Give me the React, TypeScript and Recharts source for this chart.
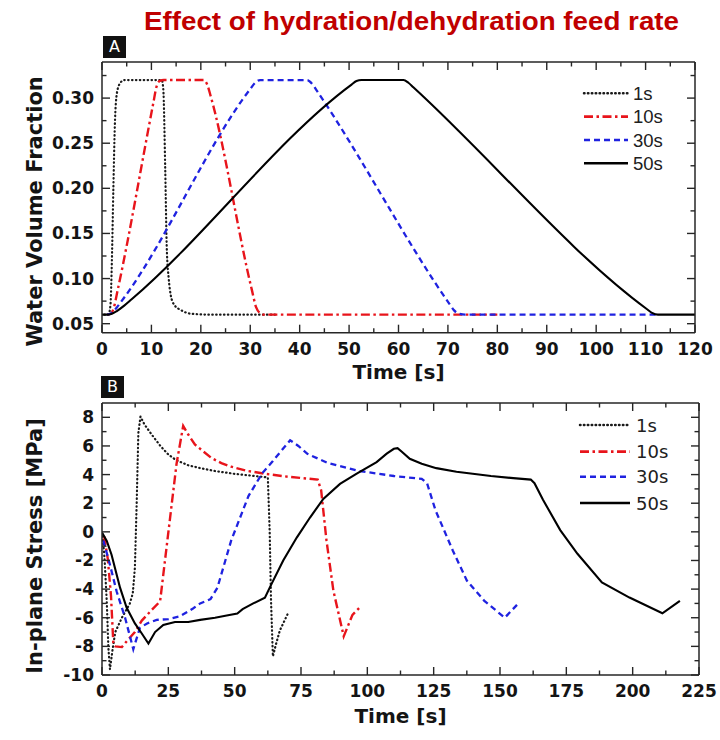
import React from 'react';
import { LineChart, Line, XAxis, YAxis, Legend, Label } from 'recharts';

type Pt = [number, number];

// ---------------- Panel A: water volume fraction vs time [s] ----------------
const wvf_1s: Pt[] = [
  [0.5, 0.06], [1.3, 0.06], [1.7, 0.07], [2.0, 0.12], [2.3, 0.2], [2.6, 0.27], [3.0, 0.305],
  [3.6, 0.316], [4.5, 0.32], [12.1, 0.32], [12.4, 0.31], [12.8, 0.22], [13.1, 0.135],
  [13.5, 0.1], [13.9, 0.082], [14.6, 0.071], [16, 0.065], [18, 0.061], [22, 0.06], [35, 0.06],
];
const wvf_10s: Pt[] = [
  [1, 0.06], [1.8, 0.061], [2.4, 0.068], [3.2, 0.088], [10.4, 0.295], [11.0, 0.312], [11.7, 0.319],
  [12.5, 0.32], [20.6, 0.32], [21.3, 0.315], [22.0, 0.302], [30.3, 0.088], [31.2, 0.068],
  [31.9, 0.062], [32.8, 0.06], [80, 0.06],
];
const wvf_30s: Pt[] = [
  [1, 0.06], [2, 0.062], [3, 0.068], [4.5, 0.079], [30, 0.31], [31, 0.317], [32, 0.32],
  [41.5, 0.32], [42.5, 0.316], [43.5, 0.308], [70.3, 0.072], [71.2, 0.065], [72.2, 0.061],
  [73.5, 0.06], [112, 0.06],
];
const wvf_50s: Pt[] = [
  [0, 0.06], [1, 0.06], [2, 0.061], [3, 0.064], [4.5, 0.07], [6, 0.077], [50.5, 0.315],
  [51.5, 0.319], [52.5, 0.32], [61, 0.32], [62, 0.317], [63, 0.312], [110.3, 0.066],
  [111.3, 0.062], [112.5, 0.06], [120, 0.06],
];

// ---------------- Panel B: in-plane stress [MPa] vs time [s] ----------------
const stress_1s: Pt[] = [
  [0.3, -0.3], [1.0, -2.0], [1.8, -4.9], [2.4, -8.1], [3.0, -9.6], [4.0, -8.2], [5.0, -7.0],
  [7.5, -6.0], [10.5, -5.0], [11.6, -4.3], [12.4, -2.5], [13.1, 2.2], [13.7, 6.9], [14.5, 8.05],
  [16.0, 7.5], [18.7, 6.8], [22, 6.0], [25, 5.4], [28, 5.0], [32.5, 4.65], [37, 4.45],
  [42.5, 4.25], [50, 4.05], [56, 3.93], [62.5, 3.8], [63.2, 0], [63.7, -4.8], [64.4, -8.7],
  [65.5, -7.9], [67, -6.9], [70.2, -5.65],
];
const stress_10s: Pt[] = [
  [0.8, -0.3], [2.2, -1.9], [3.4, -4.5], [4.3, -7.9], [5.0, -8.0], [7.5, -8.05], [9.5, -7.6],
  [12.4, -7.0], [15, -6.2], [17.5, -5.7], [21.9, -4.85], [28.1, 4.76], [30.6, 7.4], [32.5, 6.8],
  [35, 6.1], [38.3, 5.6], [41.3, 5.15], [45, 4.8], [48.7, 4.55], [55, 4.25], [61.7, 4.05],
  [70, 3.85], [81.3, 3.65], [82.6, 2.9], [84.6, -0.6], [87.2, -4.1], [91.1, -7.3], [94.4, -5.8],
  [97.6, -5.2],
];
const stress_30s: Pt[] = [
  [0.5, -0.6], [3.0, -2.3], [5.5, -4.15], [8.7, -6.0], [11.8, -8.2], [14.3, -6.7], [17, -6.4],
  [20.6, -6.15], [25, -6.1], [29.4, -5.9], [34.3, -5.35], [37, -5.0], [40.9, -4.7], [43.5, -3.9],
  [48.7, -0.6], [55.2, 2.5], [60.4, 4.1], [64.4, 4.95], [70.9, 6.4], [74, 6.0], [77.4, 5.45],
  [85.2, 4.8], [97, 4.25], [110, 3.9], [120.5, 3.7], [122.5, 3.4], [125.7, 1.5], [132.2, -1.3],
  [137.5, -3.4], [144, -4.8], [151.8, -6.0], [156.4, -5.1],
];
const stress_50s: Pt[] = [
  [0, -0.05], [1.8, -0.63], [3.6, -1.6], [6.8, -3.9], [9.3, -5.3], [12.4, -6.4], [15, -7.1],
  [17.5, -7.8], [20, -7.0], [23.1, -6.5], [27.5, -6.3], [32.5, -6.3], [37, -6.15], [42.6, -6.0],
  [47, -5.85], [51, -5.7], [53, -5.4], [57, -5.0], [61.4, -4.6], [64, -3.6], [68.3, -2.0],
  [73.4, -0.4], [78.4, 1.0], [83.4, 2.3], [89.7, 3.35], [96, 4.06], [103.5, 4.87], [107.3, 5.46],
  [110, 5.8], [111.4, 5.85], [113, 5.6], [116, 5.1], [120.5, 4.75], [126, 4.45], [133.6, 4.2],
  [146.6, 3.9], [155, 3.75], [161.6, 3.65], [163, 3.4], [166.2, 2.24], [172.7, 0.12],
  [179.2, -1.53], [188.4, -3.53], [198.8, -4.59], [211.2, -5.69], [217.8, -4.82],
];

// ---------------- series styling / labels ----------------
const seriesLabels = ['1s', '10s', '30s', '50s'];
const seriesColors = ['#1a1a1a', '#e8141b', '#1f22e0', '#000000'];
const seriesDash = ['0.5 3.4', '9 3.5 2.5 3.5', '6 4', ''];
const seriesWidth = [2.2, 2.4, 2.3, 2.1];

// ---------------- ticks ----------------
const xTicksA = [0, 10, 20, 30, 40, 50, 60, 70, 80, 90, 100, 110, 120];
const xMinorA = [5, 15, 25, 35, 45, 55, 65, 75, 85, 95, 105, 115];
const yTicksA = [0.05, 0.1, 0.15, 0.2, 0.25, 0.3];
const yMinorA = [0.075, 0.125, 0.175, 0.225, 0.275, 0.325];
const xTicksB = [0, 25, 50, 75, 100, 125, 150, 175, 200, 225];
const xMinorB = [12.5, 37.5, 62.5, 87.5, 112.5, 137.5, 162.5, 187.5, 212.5];
const yTicksB = [-10, -8, -6, -4, -2, 0, 2, 4, 6, 8];
const yMinorB = [-9, -7, -5, -3, -1, 1, 3, 5, 7];

const FRAME = '#262626';
const TICK_FONT: React.CSSProperties = {
  fontFamily: '"DejaVu Sans", Verdana, sans-serif',
  fontWeight: 'bold',
  fontSize: 17,
  fill: '#141414',
};
const TITLE_FONT: React.CSSProperties = {
  fontFamily: '"DejaVu Sans", Verdana, sans-serif',
  fontWeight: 'bold',
  fontSize: 21,
  fill: '#141414',
};

const toRows = (pts: Pt[]) => pts.map(([t, v]) => ({ t, v }));
const sorted = (a: number[], b: number[]) => [...a, ...b].sort((p, q) => p - q);

type Side = 'bottom' | 'top' | 'left' | 'right';
function makeTick(side: Side, majors: number[], fmt: ((v: number) => string) | null) {
  return function Tick(props: any) {
    const { x, y, payload } = props;
    const v = payload.value as number;
    const major = majors.some((m) => Math.abs(m - v) < 1e-6);
    const L = major ? 8 : 4.5;
    let line: React.ReactNode = null;
    let label: React.ReactNode = null;
    if (side === 'bottom') {
      line = <line x1={x} x2={x} y1={y} y2={y - L} stroke={FRAME} strokeWidth={1.4} />;
      if (major && fmt) label = <text x={x} y={y + 22} textAnchor="middle" style={TICK_FONT}>{fmt(v)}</text>;
    } else if (side === 'top') {
      line = <line x1={x} x2={x} y1={y} y2={y + L} stroke={FRAME} strokeWidth={1.4} />;
    } else if (side === 'left') {
      line = <line x1={x} x2={x + L} y1={y} y2={y} stroke={FRAME} strokeWidth={1.4} />;
      if (major && fmt) label = <text x={x - 8} y={y + 6} textAnchor="end" style={TICK_FONT}>{fmt(v)}</text>;
    } else {
      line = <line x1={x} x2={x - L} y1={y} y2={y} stroke={FRAME} strokeWidth={1.4} />;
    }
    return <g>{line}{label}</g>;
  };
}

const xTitle = (dy: number) => (props: any) => {
  const vb = props.viewBox || { x: 102, y: 330, width: 595, height: 0 };
  return (
    <text x={vb.x + vb.width / 2} y={vb.y + dy} textAnchor="middle" style={{ ...TITLE_FONT, fontSize: 20 }}>
      Time [s]
    </text>
  );
};
const yTitle = (text: string, px: number, dyc: number) => (props: any) => {
  const vb = props.viewBox || { x: 101, y: 62, width: 1, height: 270 };
  const cx = px;
  const cy = vb.y + vb.height / 2 + dyc;
  return (
    <text x={cx} y={cy} transform={`rotate(-90 ${cx} ${cy})`} textAnchor="middle" dominantBaseline="central" style={TITLE_FONT}>
      {text}
    </text>
  );
};

function LegendBox({ rows, lineX, textX, font, fontSize }: { rows: number[]; lineX: [number, number]; textX: number; font: string; fontSize: number }) {
  return (
    <svg width={135} height={110} style={{ display: 'block' }}>
      {seriesLabels.map((name, i) => (
        <g key={name}>
          <line
            x1={lineX[0]}
            x2={lineX[1]}
            y1={rows[i]}
            y2={rows[i]}
            stroke={seriesColors[i]}
            strokeWidth={seriesWidth[i] + 0.3}
            strokeDasharray={seriesDash[i] || undefined}
            strokeLinecap={i === 0 ? 'round' : 'butt'}
          />
          <text x={textX} y={rows[i]} dominantBaseline="central" style={{ fontFamily: font, fontSize, fill: '#202020' }}>
            {name}
          </text>
        </g>
      ))}
    </svg>
  );
}

function renderLines(sets: Pt[][], curve: 'monotone' | 'linear') {
  return sets.map((pts, i) => (
    <Line
      key={seriesLabels[i]}
      name={seriesLabels[i]}
      xAxisId="b"
      yAxisId="l"
      data={toRows(pts)}
      dataKey="v"
      type={curve}
      stroke={seriesColors[i]}
      strokeWidth={seriesWidth[i]}
      strokeDasharray={seriesDash[i] || undefined}
      strokeLinecap={i === 0 ? 'round' : 'butt'}
      dot={false}
      activeDot={false}
      isAnimationActive={false}
    />
  ));
}

const axisLine = { stroke: FRAME, strokeWidth: 1.5 };

function PanelA() {
  const xt = sorted(xTicksA, xMinorA);
  const yt = sorted(yTicksA, yMinorA);
  return (
    <LineChart width={720} height={390} margin={{ top: 61, right: 24, bottom: 56.3, left: 101 }}>
      <XAxis xAxisId="b" dataKey="t" type="number" domain={[0, 120]} allowDataOverflow ticks={xt} interval={0}
        height={1} tickSize={0} tickMargin={0} tickLine={false} axisLine={axisLine}
        tick={makeTick('bottom', xTicksA, (v) => String(v))}>
        <Label content={xTitle(46)} />
      </XAxis>
      <XAxis xAxisId="t" orientation="top" dataKey="t" type="number" domain={[0, 120]} allowDataOverflow ticks={xt} interval={0}
        height={1} tickSize={0} tickMargin={0} tickLine={false} axisLine={axisLine}
        tick={makeTick('top', xTicksA, null)} />
      <YAxis yAxisId="l" type="number" domain={[0.04, 0.34]} allowDataOverflow ticks={yt} interval={0}
        width={1} tickSize={0} tickMargin={0} tickLine={false} axisLine={axisLine}
        tick={makeTick('left', yTicksA, (v) => v.toFixed(2))}>
        <Label content={yTitle('Water Volume Fraction', 35, 14)} />
      </YAxis>
      <YAxis yAxisId="r" orientation="right" type="number" domain={[0.04, 0.34]} allowDataOverflow ticks={yt} interval={0}
        width={1} tickSize={0} tickMargin={0} tickLine={false} axisLine={axisLine}
        tick={makeTick('right', yTicksA, null)} />
      <Legend layout="vertical" align="center" verticalAlign="middle"
        wrapperStyle={{ left: 578, top: 80, width: 135, height: 110 }}
        content={() => (
          <LegendBox rows={[13.3, 36.7, 60, 83.3]} lineX={[6, 50]} textX={55} font='"Liberation Sans", Arial, sans-serif' fontSize={18.5} />
        )} />
      {renderLines([wvf_1s, wvf_10s, wvf_30s, wvf_50s], 'monotone')}
    </LineChart>
  );
}

function PanelB() {
  const xt = sorted(xTicksB, xMinorB);
  const yt = sorted(yTicksB, yMinorB);
  return (
    <LineChart width={720} height={350} margin={{ top: 12, right: 20, bottom: 64, left: 101 }}>
      <XAxis xAxisId="b" dataKey="t" type="number" domain={[0, 225]} allowDataOverflow ticks={xt} interval={0}
        height={1} tickSize={0} tickMargin={0} tickLine={false} axisLine={axisLine}
        tick={makeTick('bottom', xTicksB, (v) => String(v))}>
        <Label content={xTitle(48)} />
      </XAxis>
      <XAxis xAxisId="t" orientation="top" dataKey="t" type="number" domain={[0, 225]} allowDataOverflow ticks={xt} interval={0}
        height={1} tickSize={0} tickMargin={0} tickLine={false} axisLine={axisLine}
        tick={makeTick('top', xTicksB, null)} />
      <YAxis yAxisId="l" type="number" domain={[-10, 9]} allowDataOverflow ticks={yt} interval={0}
        width={1} tickSize={0} tickMargin={0} tickLine={false} axisLine={axisLine}
        tick={makeTick('left', yTicksB, (v) => String(v))}>
        <Label content={yTitle('In-plane Stress [MPa]', 35, 7)} />
      </YAxis>
      <YAxis yAxisId="r" orientation="right" type="number" domain={[-10, 9]} allowDataOverflow ticks={yt} interval={0}
        width={1} tickSize={0} tickMargin={0} tickLine={false} axisLine={axisLine}
        tick={makeTick('right', yTicksB, null)} />
      <Legend layout="vertical" align="center" verticalAlign="middle"
        wrapperStyle={{ left: 575, top: 22, width: 135, height: 110 }}
        content={() => (
          <LegendBox rows={[13, 39.7, 64.7, 91]} lineX={[5, 55]} textX={61} font='"DejaVu Sans", Verdana, sans-serif' fontSize={18} />
        )} />
      {renderLines([stress_1s, stress_10s, stress_30s, stress_50s], 'linear')}
    </LineChart>
  );
}

function PanelTag({ letter, x, y }: { letter: string; x: number; y: number }) {
  return (
    <div style={{ position: 'absolute', left: x, top: y, width: 23, height: 22, background: '#111', color: '#fff',
      fontFamily: '"DejaVu Sans", sans-serif', fontSize: 16, lineHeight: '22px', textAlign: 'center' }}>
      {letter}
    </div>
  );
}

export default function App() {
  return (
    <div style={{ position: 'absolute', left: 0, top: 0, width: 720, height: 740, background: '#fff', overflow: 'hidden' }}>
      <svg width={720} height={40} style={{ position: 'absolute', left: 0, top: 0 }}>
        <text x={144} y={30} textLength={535} lengthAdjust="spacingAndGlyphs"
          style={{ fontFamily: '"Liberation Sans", Arial, sans-serif', fontWeight: 'bold', fontSize: 25, fill: '#c00000' }}>
          Effect of hydration/dehydration feed rate
        </text>
      </svg>
      <PanelTag letter="A" x={103} y={36} />
      <PanelTag letter="B" x={101} y={376} />
      <div style={{ position: 'absolute', left: 0, top: 0 }}>
        <PanelA />
      </div>
      <div style={{ position: 'absolute', left: 0, top: 390 }}>
        <PanelB />
      </div>
    </div>
  );
}
